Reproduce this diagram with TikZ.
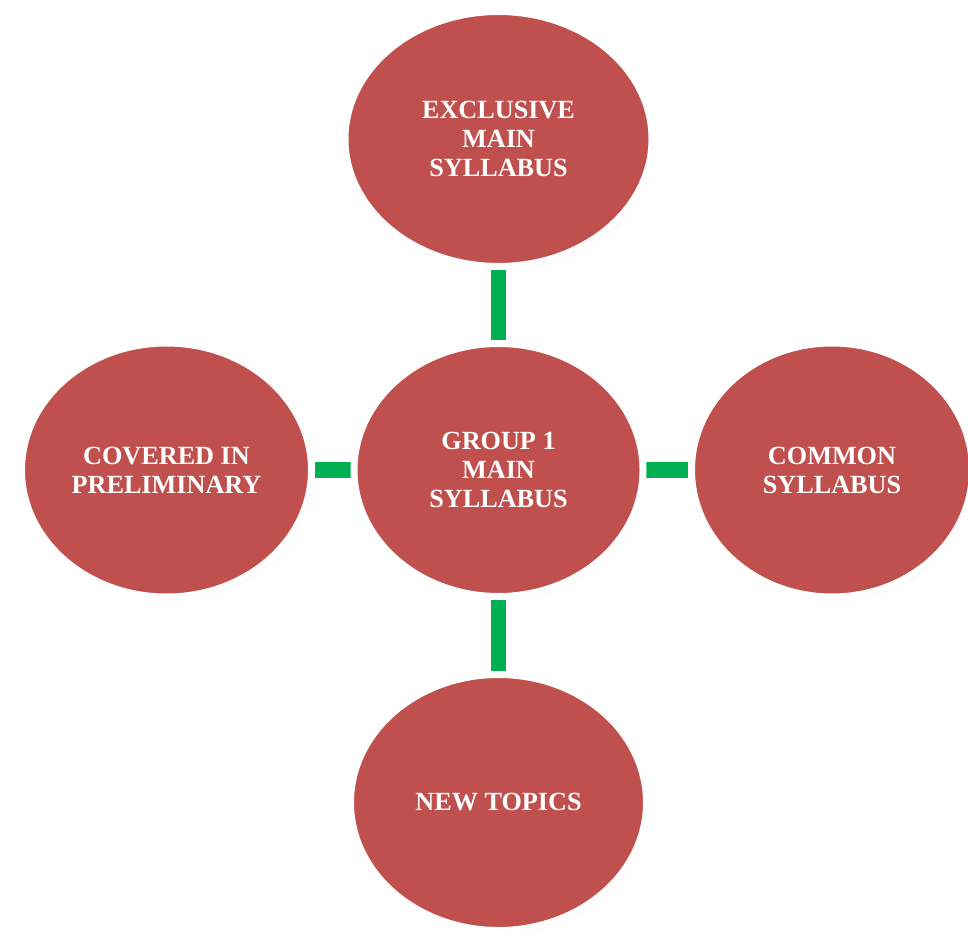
\documentclass[tikz,border=0pt]{standalone}
\usepackage{fontspec}
\setmainfont{Liberation Serif}
\usetikzlibrary{shapes.geometric,shadows,backgrounds}

\definecolor{bubblered}{RGB}{192,80,77}
\definecolor{linkgreen}{RGB}{0,176,80}

\tikzset{
  bubble/.style={ellipse, fill=bubblered, draw=white, line width=7pt, inner sep=0pt,
    drop shadow={shadow xshift=2pt, shadow yshift=-3pt, opacity=0.25, fill=black!60},
    text=white, font=\fontsize{26.2}{29}\selectfont\bfseries, align=center},
  link/.style={draw=linkgreen, line width=15.5pt}
}

\begin{document}
\begin{tikzpicture}[x=1pt,y=1pt,yscale=-1,xscale=1]
	\useasboundingbox (0,0) rectangle (968,936);

	% Text Node
	\node [bubble, minimum width=307pt, minimum height=255pt] (exclusive) at (498.5,139) {EXCLUSIVE\\MAIN\\SYLLABUS};
	% Text Node
	\node [bubble, minimum width=289pt, minimum height=253pt] (group) at (498.5,470) {GROUP 1\\MAIN\\SYLLABUS};
	% Text Node
	\node [bubble, minimum width=290pt, minimum height=254pt] (covered) at (166.5,470) {COVERED IN\\PRELIMINARY};
	% Text Node
	\node [bubble, minimum width=281pt, minimum height=254pt] (common) at (832,470) {COMMON\\SYLLABUS};
	% Text Node
	\node [bubble, minimum width=296pt, minimum height=256pt] (newtopics) at (498.5,802.5) {NEW TOPICS};

	% Connection
	\begin{scope}[on background layer]
	\draw [link] (group.center) -- (exclusive.center);
	\draw [link] (group.center) -- (covered.center);
	\draw [link] (group.center) -- (common.center);
	\draw [link] (group.center) -- (newtopics.center);
	\end{scope}

\end{tikzpicture}
\end{document}
